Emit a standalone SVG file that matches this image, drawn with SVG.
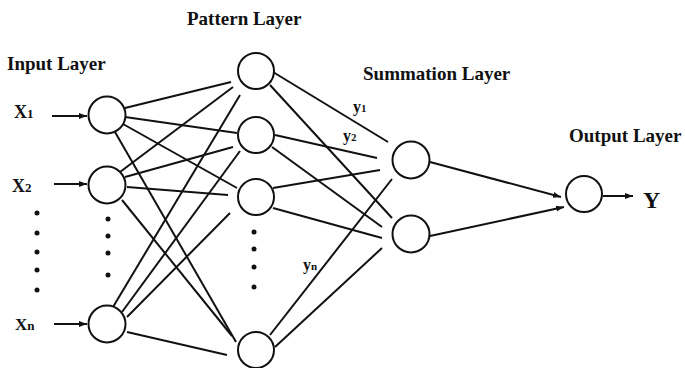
<svg xmlns="http://www.w3.org/2000/svg" width="685" height="368" viewBox="0 0 685 368">
  <style>
    .node { fill: #fff; stroke: #111; stroke-width: 2; }
    .link { stroke: #111; stroke-width: 2; fill: none; }
    .title { font-family: "Liberation Serif", "Times New Roman", serif; font-weight: bold; font-size: 19px; fill: #111; }
    .var { font-family: "Liberation Serif", "Times New Roman", serif; font-weight: bold; fill: #111; }
    .dot { fill: #111; }
  </style>
  <defs>
    <marker id="arrow" markerUnits="userSpaceOnUse" markerWidth="9" markerHeight="7" refX="8" refY="3.5" orient="auto">
      <path d="M0,0.5 L8,3.5 L0,6.5 z" fill="#111"/>
    </marker>
  </defs>

  <rect width="685" height="368" fill="#fff"/>

  <!-- layer titles -->
  <text class="title" x="187" y="25">Pattern Layer</text>
  <text class="title" x="7" y="70">Input Layer</text>
  <text class="title" x="363" y="80">Summation Layer</text>
  <text class="title" x="569" y="142">Output Layer</text>

  <!-- input variables -->
  <text class="var" x="14" y="118" font-size="18">X<tspan font-size="13">1</tspan></text>
  <text class="var" x="12" y="192" font-size="18">X<tspan font-size="13">2</tspan></text>
  <text class="var" x="15" y="330" font-size="17">X<tspan font-size="13">n</tspan></text>
  <text class="var" x="643" y="208" font-size="24">Y</text>

  <!-- weight labels -->
  <text class="var" x="353" y="112" font-size="16">y<tspan font-size="11">1</tspan></text>
  <text class="var" x="343" y="141" font-size="16">y<tspan font-size="11">2</tspan></text>
  <text class="var" x="303" y="270" font-size="16">y<tspan font-size="11">n</tspan></text>

  <!-- ellipsis dots -->
  <g id="dots">
    <circle class="dot" cx="37" cy="213" r="2.5"/>
    <circle class="dot" cx="37" cy="233" r="2.5"/>
    <circle class="dot" cx="37" cy="252" r="2.5"/>
    <circle class="dot" cx="37" cy="270" r="2.5"/>
    <circle class="dot" cx="37" cy="290" r="2.5"/>
    <circle class="dot" cx="108" cy="219" r="2.5"/>
    <circle class="dot" cx="108" cy="236" r="2.5"/>
    <circle class="dot" cx="108" cy="253" r="2.5"/>
    <circle class="dot" cx="108" cy="275" r="2.5"/>
    <circle class="dot" cx="254" cy="232" r="2.5"/>
    <circle class="dot" cx="254" cy="249" r="2.5"/>
    <circle class="dot" cx="254" cy="267" r="2.5"/>
    <circle class="dot" cx="254" cy="287" r="2.5"/>
  </g>

  <g id="connectors">
    <!-- inputs -->
    <line class="link" x1="52" y1="116" x2="87" y2="116" marker-end="url(#arrow)"/>
    <line class="link" x1="54" y1="184" x2="87" y2="184" marker-end="url(#arrow)"/>
    <line class="link" x1="54" y1="324" x2="87" y2="324" marker-end="url(#arrow)"/>
    <!-- input to pattern -->
    <line class="link" x1="125" y1="108" x2="231" y2="82"/>
    <line class="link" x1="125" y1="117" x2="237" y2="133"/>
    <line class="link" x1="123" y1="124" x2="237" y2="188"/>
    <line class="link" x1="115" y1="132" x2="236" y2="342"/>
    <line class="link" x1="120" y1="172" x2="233" y2="87"/>
    <line class="link" x1="125" y1="177" x2="233" y2="147"/>
    <line class="link" x1="127" y1="187" x2="228" y2="195"/>
    <line class="link" x1="122" y1="200" x2="232" y2="336"/>
    <line class="link" x1="113" y1="307" x2="240" y2="95"/>
    <line class="link" x1="122" y1="312" x2="240" y2="151"/>
    <line class="link" x1="127" y1="317" x2="230" y2="213"/>
    <line class="link" x1="127" y1="332" x2="227" y2="355"/>
    <!-- pattern to summation -->
    <line class="link" x1="273" y1="72" x2="388" y2="142"/>
    <line class="link" x1="270" y1="85" x2="392" y2="218"/>
    <line class="link" x1="275" y1="135" x2="377" y2="158"/>
    <line class="link" x1="272" y1="147" x2="382" y2="227"/>
    <line class="link" x1="273" y1="188" x2="380" y2="170"/>
    <line class="link" x1="273" y1="208" x2="382" y2="238"/>
    <line class="link" x1="270" y1="335" x2="392" y2="179"/>
    <line class="link" x1="275" y1="347" x2="382" y2="248"/>
    <!-- summation to output -->
    <line class="link" x1="430" y1="162" x2="561" y2="197" marker-end="url(#arrow)"/>
    <line class="link" x1="430" y1="236" x2="564" y2="207" marker-end="url(#arrow)"/>
    <line class="link" x1="603" y1="196" x2="633" y2="196" marker-end="url(#arrow)"/>
  </g>

  <!-- input layer -->
  <g id="input-1"><circle class="node" cx="107" cy="115" r="18.5"/></g>
  <g id="input-2"><circle class="node" cx="107" cy="185" r="18.5"/></g>
  <g id="input-n"><circle class="node" cx="107" cy="324" r="18.5"/></g>

  <!-- pattern layer -->
  <g id="pattern-1"><circle class="node" cx="256" cy="71" r="18"/></g>
  <g id="pattern-2"><circle class="node" cx="256" cy="135" r="18"/></g>
  <g id="pattern-3"><circle class="node" cx="256" cy="197" r="18"/></g>
  <g id="pattern-n"><circle class="node" cx="256" cy="350" r="18"/></g>

  <!-- summation layer -->
  <g id="summation-1"><circle class="node" cx="411" cy="160" r="18.5"/></g>
  <g id="summation-2"><circle class="node" cx="411" cy="234" r="18.5"/></g>

  <!-- output layer -->
  <g id="output"><circle class="node" cx="584" cy="194" r="18"/></g>
</svg>
